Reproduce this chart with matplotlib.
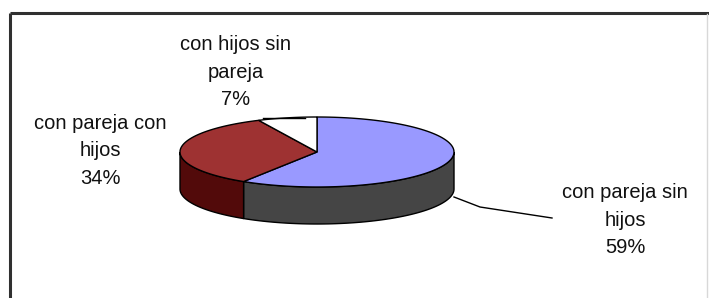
import numpy as np
import matplotlib.pyplot as plt
from matplotlib.patches import Polygon

# data
categories = ['con pareja sin\nhijos', 'con pareja con\nhijos', 'con hijos sin\npareja']
shares = [59, 34, 7]
top_colors = ['#9999ff', '#9e3232', '#ffffff']
side_colors = ['#454545', '#520a0a', '#d0d0d0']

# pie geometry in pixel space
cx, cy = 317, 152
rx, ry = 137, 35
depth = 37


def ell(t):
    return cx + rx * np.cos(t), cy - ry * np.sin(t)


def side(a_from, a_to, color):
    # wall below the rim between two angles
    t = np.linspace(a_from, a_to, 80)
    x, y = ell(t)
    pts = np.column_stack([np.concatenate([x, x[::-1]]),
                           np.concatenate([y, y[::-1] + depth])])
    ax.add_patch(Polygon(pts, closed=True, fc=color, ec='black', lw=1, zorder=2))


fig = plt.figure(figsize=(7.09, 2.98), dpi=100)
ax = fig.add_axes([0, 0, 1, 1])
ax.set_xlim(0, 709)
ax.set_ylim(298, 0)
ax.axis('off')

# frame around the chart
ax.plot([10, 709], [13, 13], color='#303030', lw=2.2, solid_capstyle='butt')
ax.plot([10, 10], [13, 298], color='#303030', lw=2.2, solid_capstyle='butt')
ax.plot([707, 707], [14, 298], color='#d8d8d8', lw=1)

# slice angles, clockwise from 12 o'clock
fracs = np.array(shares) / np.sum(shares)
ends = np.pi / 2 - 2 * np.pi * np.cumsum(fracs)
starts = np.concatenate([[np.pi / 2], ends[:-1]])

# front walls: only the part between -180 and 0 deg is visible
for a1, a2, sc in zip(starts, ends, side_colors):
    hi = min(a1, 0)
    lo = max(a2, -np.pi)
    if lo < hi:
        side(hi, lo, sc)

# top faces
for a1, a2, tc in zip(starts, ends, top_colors):
    t = np.linspace(a1, a2, 120)
    x, y = ell(t)
    pts = np.column_stack([np.concatenate([[cx], x]), np.concatenate([[cy], y])])
    ax.add_patch(Polygon(pts, closed=True, fc=tc, ec='black', lw=1, zorder=3))

# labels
font = dict(family='Liberation Sans', fontsize=14.5, ha='center', va='center',
            linespacing=1.55, color='#111111', zorder=5)
ax.text(625, 220, f'{categories[0]}\n{shares[0]}%', **font)
ax.text(100, 151, f'{categories[1]}\n{shares[1]}%', **font)
ax.text(236, 72, f'{categories[2]}\n{shares[2]}%', **font)

# leader lines
ax.plot([454, 480, 552], [197, 207, 218], color='black', lw=1, zorder=4)
ax.plot([263, 305], [118, 118], color='black', lw=1, zorder=4)

fig.savefig('out.png', dpi=100)
